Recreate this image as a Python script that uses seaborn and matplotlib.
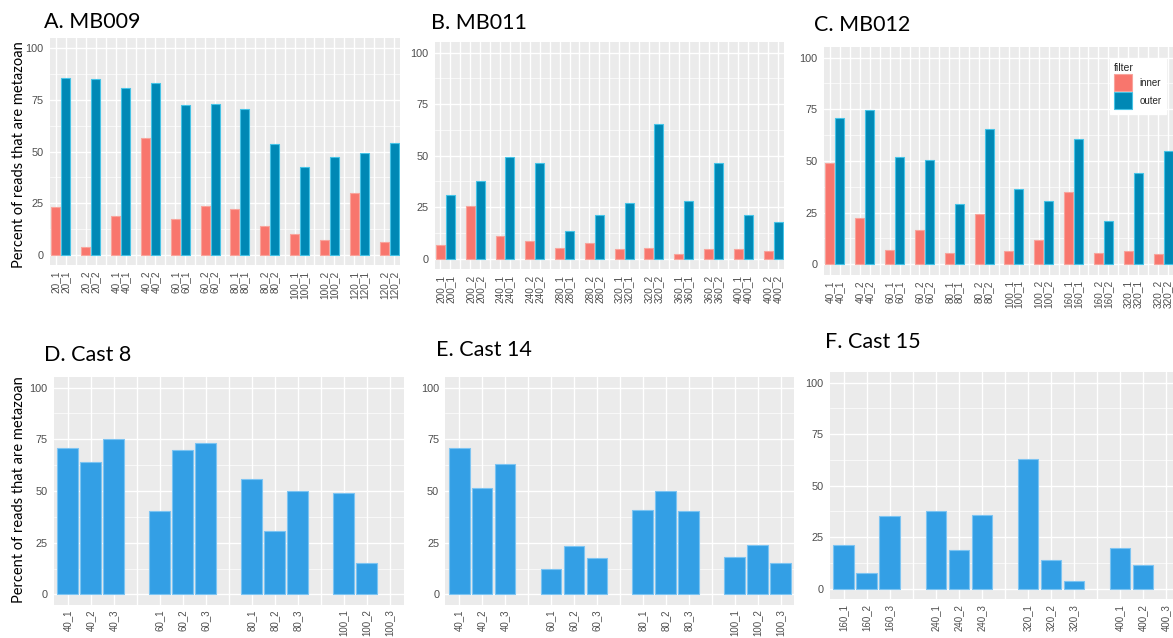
import matplotlib
matplotlib.use("Agg")
import matplotlib.pyplot as plt
import seaborn as sns
import pandas as pd
import numpy as np
from matplotlib.patches import Patch

# ---------------- data ----------------
mb009_groups = ["20_1", "20_2", "40_1", "40_2", "60_1", "60_2", "80_1", "80_2",
                "100_1", "100_2", "120_1", "120_2"]
mb009_inner = [23.2, 3.9, 18.9, 56.6, 17.3, 23.7, 22.1, 14.0, 10.2, 7.4, 30.0, 6.3]
mb009_outer = [85.8, 85.0, 80.6, 83.4, 72.7, 73.2, 70.6, 53.5, 42.7, 47.3, 49.4, 54.4]

mb011_groups = ["200_1", "200_2", "240_1", "240_2", "280_1", "280_2", "320_1", "320_2",
                "360_1", "360_2", "400_1", "400_2"]
mb011_inner = [6.5, 25.6, 10.8, 8.7, 5.0, 7.8, 4.5, 5.2, 2.1, 4.9, 4.7, 3.7]
mb011_outer = [30.9, 37.5, 49.4, 46.3, 13.4, 21.0, 26.9, 65.2, 28.0, 46.3, 21.4, 17.8]

mb012_groups = ["40_1", "40_2", "60_1", "60_2", "80_1", "80_2", "100_1", "100_2",
                "160_1", "160_2", "320_1", "320_2"]
mb012_inner = [49.2, 22.6, 7.1, 16.5, 5.6, 24.5, 6.6, 11.9, 35.0, 5.3, 6.6, 5.0]
mb012_outer = [70.8, 74.7, 51.8, 50.3, 29.2, 65.5, 36.6, 30.6, 60.5, 21.0, 44.2, 54.7]

cast8_labels = ["40_1", "40_2", "40_3", "60_1", "60_2", "60_3", "80_1", "80_2", "80_3",
                "100_1", "100_2", "100_3"]
cast8_values = [70.6, 63.9, 75.3, 40.3, 69.7, 73.1, 55.8, 30.5, 49.8, 49.0, 15.2, np.nan]

cast14_labels = ["40_1", "40_2", "40_3", "60_1", "60_2", "60_3", "80_1", "80_2", "80_3",
                 "100_1", "100_2", "100_3"]
cast14_values = [71.0, 51.3, 63.2, 12.3, 23.4, 17.7, 40.6, 50.2, 40.3, 18.2, 23.7, 15.3]

cast15_labels = ["160_1", "160_2", "160_3", "240_1", "240_2", "240_3", "320_1", "320_2",
                 "320_3", "400_1", "400_2", "400_3"]
cast15_values = [21.0, 7.4, 35.3, 37.7, 18.9, 35.8, 63.1, 13.9, 3.7, 19.6, 11.5, np.nan]

filters = ["inner", "outer"]
titles = ["A. MB009", "B. MB011", "C. MB012", "D. Cast 8", "E. Cast 14", "F. Cast 15"]
ylabel = "Percent of reads that are metazoan"

# ---------------- style ----------------
W, H = 1173, 638
fig = plt.figure(figsize=(W / 100, H / 100), dpi=100)
sns.set_style("white")
plt.rcParams['font.family'] = ['Liberation Sans', 'DejaVu Sans']

pal = {"inner": "#F8766D", "outer": "#0088B5"}
edge = {"inner": "#F8A49C", "outer": "#45C3E6"}
cast_color = "#339FE5"
cast_edge = "#7CC4F2"


def px(l, r, t, b):
    return [l / W, 1 - b / H, (r - l) / W, (b - t) / H]


def style_axis(ax, n):
    ax.set_facecolor("#EBEBEB")
    for s in ax.spines.values():
        s.set_visible(False)
    ax.set_ylim(-5, 105)
    ax.set_yticks([0, 25, 50, 75, 100])
    ax.set_yticks([12.5, 37.5, 62.5, 87.5], minor=True)
    ax.set_xticks(range(n))
    ax.set_axisbelow(True)
    ax.grid(which="major", color="white", lw=1.0)
    ax.grid(which="minor", axis="y", color="white", lw=0.5)
    ax.tick_params(axis="y", which="major", length=3, width=0.6, color="#333333",
                   labelsize=7.8, labelcolor="#4D4D4D", pad=1.5)
    ax.tick_params(axis="y", which="minor", length=0)
    ax.tick_params(axis="x", length=2.5, width=0.6, color="#333333",
                   labelcolor="#4D4D4D", pad=1.5)
    ax.set_xlabel("")
    ax.set_ylabel("")


def paired_panel(rect, groups, inner, outer, xmax):
    ax = fig.add_axes(rect)
    keys, vals, fil, order, labels = [], [], [], [], []
    for i, g in enumerate(groups):
        for f, v in zip(filters, (inner[i], outer[i])):
            k = g + "|" + f
            keys.append(k); vals.append(v); fil.append(f)
            order.append(k); labels.append(g)
        if i < len(groups) - 1:
            order.append("gap%d" % i); labels.append("")
    df = pd.DataFrame({"key": keys, "value": vals, "filter": fil})
    sns.barplot(data=df, x="key", y="value", hue="filter", order=order,
                hue_order=filters, palette=pal, dodge=False, width=0.9,
                saturation=1, legend=False, ax=ax, linewidth=0.8)
    for p in ax.patches:
        fc = matplotlib.colors.to_hex(p.get_facecolor())
        p.set_edgecolor(edge["inner"] if fc.lower() == pal["inner"].lower() else edge["outer"])
    style_axis(ax, len(order))
    ax.set_xticklabels(labels, rotation=90, fontsize=7.2, ha="center", va="top")
    ax.set_xlim(-0.6, xmax)
    return ax


def cast_panel(rect, labels_in, values, xmax):
    ax = fig.add_axes(rect)
    order, labels = [], []
    for i, lab in enumerate(labels_in):
        order.append(lab); labels.append(lab)
        if i % 3 == 2 and i < len(labels_in) - 1:
            order.append("gap%d" % i); labels.append("")
    df = pd.DataFrame({"sample": labels_in, "value": values}).dropna()
    sns.barplot(data=df, x="sample", y="value", order=order, color=cast_color,
                width=0.9, saturation=1, ax=ax, edgecolor=cast_edge, linewidth=0.8)
    style_axis(ax, len(order))
    ax.set_xticklabels(labels, rotation=90, fontsize=7, ha="center", va="top")
    ax.tick_params(axis="x", pad=1)
    ax.set_xlim(-0.6, xmax)
    return ax


axA = paired_panel(px(50, 400, 38, 265.3), mb009_groups, mb009_inner, mb009_outer, 34.6)
axB = paired_panel(px(434.5, 784, 42.4, 269), mb011_groups, mb011_inner, mb011_outer, 34.6)
axC = paired_panel(px(824, 1173, 47.3, 274.6), mb012_groups, mb012_inner, mb012_outer, 34.5)
axD = cast_panel(px(53.9, 403.5, 377.3, 604.7), cast8_labels, cast8_values, 14.6)
axE = cast_panel(px(445.4, 794.3, 377.3, 604.7), cast14_labels, cast14_values, 14.6)
axF = cast_panel(px(830, 1173, 372.4, 599), cast15_labels, cast15_values, 14.3)

# legend on panel C
handles = [Patch(facecolor=pal[f], edgecolor=edge[f], linewidth=0.8, label=f) for f in filters]
leg = axC.legend(handles=handles, title="filter", loc="upper left",
                 bbox_to_anchor=(1110 / W, 1 - 59 / H), bbox_transform=fig.transFigure,
                 fontsize=7, title_fontsize=7.5, frameon=True, fancybox=False,
                 edgecolor="white", facecolor="white", framealpha=1,
                 handlelength=1.8, handleheight=2.3, handletextpad=0.8,
                 borderpad=0.45, labelspacing=0.1, borderaxespad=0)
leg._legend_box.align = "left"

# titles
title_pos = [(44, 22), (431, 23), (814, 25), (44, 355), (436, 350), (825, 342.5)]
for t, (x, y) in zip(titles, title_pos):
    fig.text(x / W, 1 - y / H, t, fontsize=15.5, family=["Lato", "DejaVu Sans"],
             ha="left", va="center", color="black")

# y labels
for yc in (155, 490):
    fig.text(19 / W, 1 - yc / H, ylabel, rotation=90, fontsize=10.5,
             family=["Lato", "DejaVu Sans"], ha="center", va="center", color="black")

fig.savefig("out.png", dpi=100)
